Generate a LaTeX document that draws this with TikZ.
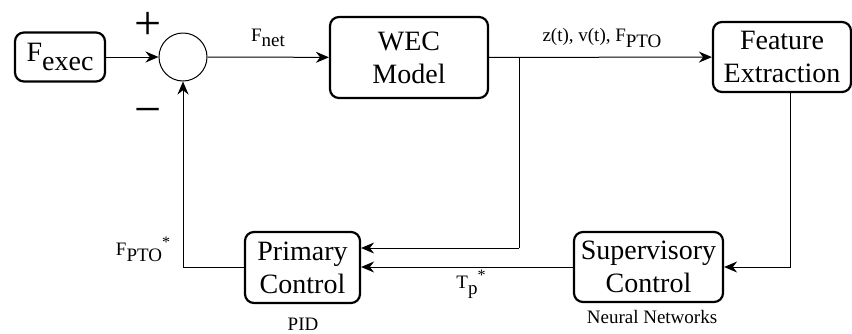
\documentclass[tikz,border=0pt]{standalone}
\usepackage{fontspec}
\setmainfont{Liberation Serif}
\usetikzlibrary{arrows.meta}
\newcommand{\pedice}[1]{\raisebox{-0.3em}{#1}}
\newcommand{\stella}{\raisebox{0.45em}{\fontsize{8}{8}\selectfont *}}

\begin{document}
\begin{tikzpicture}[x=0.5pt, y=-0.5pt, line width=0.5pt, >={Stealth[length=6.5pt, width=5.5pt]},
    blocco/.style={draw, line width=1.1pt, rounded corners=4.5pt, align=center, inner sep=0pt,
        font=\fontsize{14}{16.5}\selectfont},
    etichetta/.style={inner sep=0pt, font=\fontsize{9.5}{11}\selectfont},
    segno/.style={inner sep=0pt, font=\fontsize{24}{24}\selectfont}]

    \useasboundingbox (0,0) rectangle (852,333);

    % --- Anello diretto ---
    \node[blocco, minimum width=45pt, minimum height=24.5pt] (fexec) at (60,57) {F\pedice{exec}};
    \node[draw, circle, minimum size=24pt, inner sep=0pt] (somma) at (183,57) {};
    \node[segno] (piu) at (148,26) {+};
    \node[segno] (meno) at (148,117) {−};
    \node[blocco, minimum width=79pt, minimum height=40.5pt] (wec) at (409,57.5) {WEC\\Model};
    \node[blocco, minimum width=69pt, minimum height=35pt] (feat) at (782,57) {Feature\\Extraction};

    % --- Controllori ---
    \node[blocco, minimum width=74.5pt, minimum height=35pt] (sup) at (648.5,267) {Supervisory\\Control};
    \node[blocco, minimum width=57.5pt, minimum height=35.5pt] (prim) at (302.5,267.5) {Primary\\Control};

    % --- Etichette ---
    \node[etichetta] (fnet) at (268,38) {F\pedice{net}};
    \node[etichetta] (stati) at (602,38) {z(t), v(t), F\pedice{PTO}};
    \node[etichetta] (fpto) at (143,249) {F\pedice{PTO}\stella};
    \node[etichetta] (tp) at (471,284) {T\pedice{p}\stella};
    \node[etichetta] (pid) at (303,324) {PID};
    \node[etichetta] (nn) at (652,317) {Neural Networks};

    % --- Punti di diramazione ---
    \coordinate (ramo) at (519,57);
    \coordinate (ramogiu) at (519,248);
    \coordinate (colonna) at (790,268);

    % --- Collegamenti ---
    \draw[->] (fexec) -- (somma);
    \draw[->] (somma) -- (wec);
    \draw[->] (wec) -- (feat);
    \draw (ramo) -- (ramogiu);
    \draw[->] (ramogiu) -- (ramogiu -| prim.east);
    \draw[->] (feat.south -| colonna) |- (sup.east);
    \draw[->] (sup.west) -- (sup.west -| prim.east);
    \draw[->] (prim.west) -| (somma.south);

\end{tikzpicture}
\end{document}
